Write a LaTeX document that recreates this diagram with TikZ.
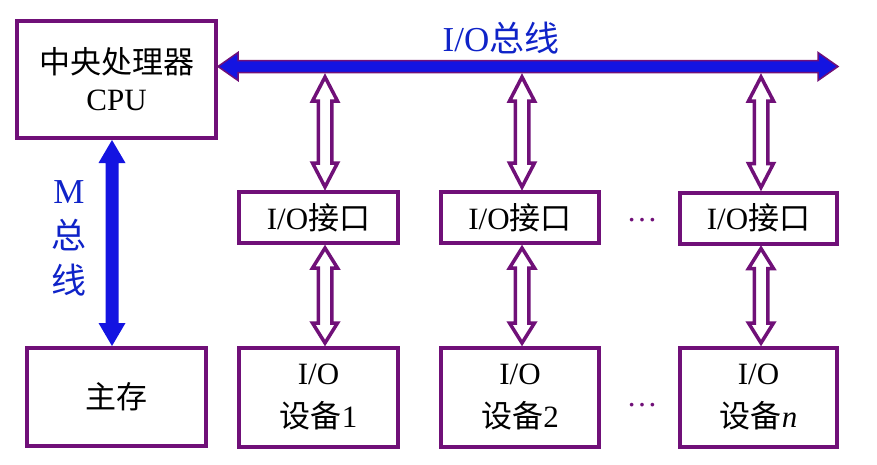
\documentclass[tikz,border=0pt]{standalone}
\usepackage{fontspec}
\setmainfont{Liberation Serif}
\newfontfamily\cjk{Noto Sans CJK SC}
\usetikzlibrary{calc}
\definecolor{pur}{RGB}{112,16,120}
\definecolor{busblue}{RGB}{20,20,225}
\definecolor{lblblue}{RGB}{15,35,200}
% vertical double arrow polygon: #1 style, #2 top, #3 bottom, #4 shaft half, #5 head half, #6 head length
\newcommand\vdarrow[6]{\path[#1] let \p1=(#2),\p2=(#3) in
  (\x1,\y1) -- (\x1+#5,\y1-#6) -- (\x1+#4,\y1-#6) -- (\x1+#4,\y2+#6) -- (\x1+#5,\y2+#6) --
  (\x1,\y2) -- (\x1-#5,\y2+#6) -- (\x1-#4,\y2+#6) -- (\x1-#4,\y1-#6) -- (\x1-#5,\y1-#6) -- cycle;}
% horizontal double arrow polygon: #1 style, #2 left, #3 right, #4 shaft half, #5 head half, #6 head length
\newcommand\hdarrow[6]{\path[#1] let \p1=(#2),\p2=(#3) in
  (\x1,\y1) -- (\x1+#6,\y1+#5) -- (\x1+#6,\y1+#4) -- (\x2-#6,\y1+#4) -- (\x2-#6,\y1+#5) --
  (\x2,\y1) -- (\x2-#6,\y1-#5) -- (\x2-#6,\y1-#4) -- (\x1+#6,\y1-#4) -- (\x1+#6,\y1-#5) -- cycle;}
\begin{document}
\begin{tikzpicture}[x=1pt,y=-1pt,
  box/.style={draw=pur,line width=4pt,fill=white,inner sep=0pt,align=center,
    font=\fontsize{31}{40}\selectfont},
  hollow/.style={draw=pur,line width=3.5pt,fill=white,line join=miter},
  bus/.style={fill=busblue,draw=pur,line width=1.5pt,line join=miter},
  mbus/.style={fill=busblue},
  lbl/.style={text=lblblue,inner sep=0pt,align=center,font=\fontsize{35}{45}\selectfont},
  dots/.style={text=pur,inner sep=0pt,font=\fontsize{31}{31}\selectfont}]
\useasboundingbox (0,0) rectangle (877,464);

% boxes
\node[box,minimum width=199pt,minimum height=117pt,font=\fontsize{31}{37}\selectfont] (cpu) at (116.5,79.5) {{\cjk 中央处理器}\\CPU};
\node[box,minimum width=179pt,minimum height=98pt] (mem) at (116.5,397) {{\cjk 主存}};

\node[box,minimum width=159pt,minimum height=51pt] (if1) at (318.5,217.5) {I/O{\cjk 接口}};
\node[box,minimum width=158pt,minimum height=51pt] (if2) at (520,217.5) {I/O{\cjk 接口}};
\node[box,minimum width=157pt,minimum height=51pt] (if3) at (758.5,218) {I/O{\cjk 接口}};

\node[box,minimum width=159pt,minimum height=99pt,font=\fontsize{31}{43}\selectfont] (dev1) at (318.5,397.5) {I/O\\{\cjk 设备}1};
\node[box,minimum width=158pt,minimum height=99pt,font=\fontsize{31}{43}\selectfont] (dev2) at (520,397.5) {I/O\\{\cjk 设备}2};
\node[box,minimum width=157pt,minimum height=99pt,font=\fontsize{31}{43}\selectfont] (dev3) at (758.5,397.5) {I/O\\{\cjk 设备}\textit{n}};

% I/O bus
\coordinate (busL) at (cpu.east |- 0,66.5);
\coordinate (busR) at (838,66.5);
\hdarrow{bus}{busL}{busR}{6pt}{14pt}{20pt}

% M bus
\coordinate (mT) at (cpu.south -| 112,0);
\coordinate (mB) at (mem.north -| 112,0);
\vdarrow{mbus}{mT}{mB}{6.5pt}{13.5pt}{23pt}

% hollow arrows bus <-> interfaces
\coordinate (a1) at (325,77);
\coordinate (a2) at (522,77);
\coordinate (a3) at (761,77);
\coordinate (b1) at ($(a1 |- if1.north)+(0,-3)$);
\coordinate (b2) at ($(a2 |- if2.north)+(0,-3)$);
\coordinate (b3) at ($(a3 |- if3.north)+(0,-3)$);
\vdarrow{hollow}{a1}{b1}{6.75pt}{12.5pt}{24pt}
\vdarrow{hollow}{a2}{b2}{6.75pt}{12.5pt}{24pt}
\vdarrow{hollow}{a3}{b3}{6.75pt}{12.5pt}{24pt}

% hollow arrows interfaces <-> devices
\coordinate (c1) at ($(a1 |- if1.south)+(0,3)$);
\coordinate (c2) at ($(a2 |- if2.south)+(0,3)$);
\coordinate (c3) at ($(a3 |- if3.south)+(0,3)$);
\coordinate (e1) at ($(a1 |- dev1.north)+(0,-3)$);
\coordinate (e2) at ($(a2 |- dev2.north)+(0,-3)$);
\coordinate (e3) at ($(a3 |- dev3.north)+(0,-3)$);
\vdarrow{hollow}{c1}{e1}{6.75pt}{12.5pt}{20pt}
\vdarrow{hollow}{c2}{e2}{6.75pt}{12.5pt}{20pt}
\vdarrow{hollow}{c3}{e3}{6.75pt}{12.5pt}{20pt}

% labels
\node[lbl] (iolbl) at (501,38) {I/O{\cjk 总线}};
\node[lbl] (mlbl) at (69,238) {M\\{\cjk 总}\\{\cjk 线}};

% ellipses
\node[dots] (d1) at (642,220) {…};
\node[dots] (d2) at (642,405) {…};
\end{tikzpicture}
\end{document}
